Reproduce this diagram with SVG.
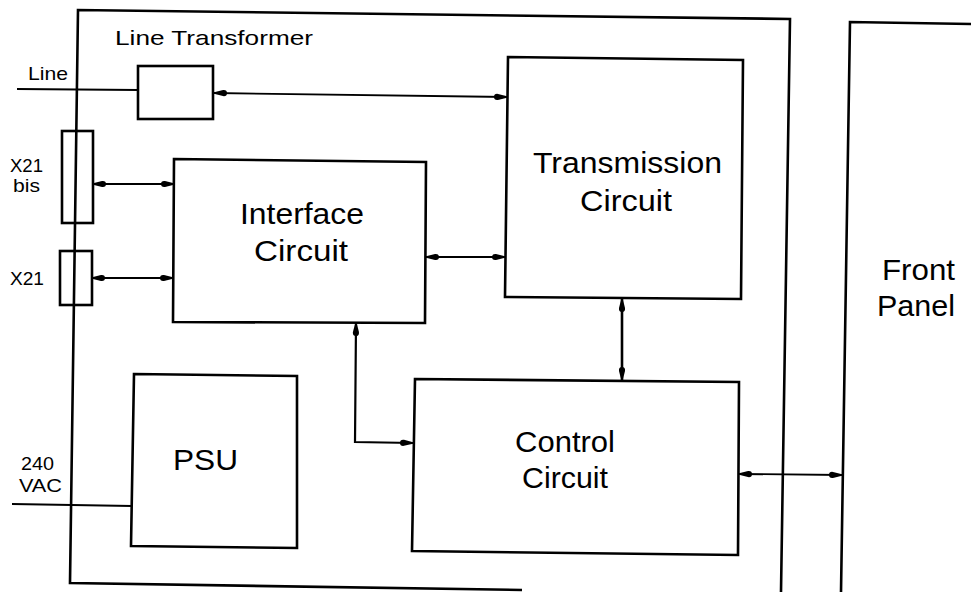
<svg xmlns="http://www.w3.org/2000/svg" width="971" height="592" viewBox="0 0 971 592">
<style>
.box{fill:none;stroke:#000;stroke-width:2.6;stroke-linejoin:miter}
.wire{fill:none;stroke:#000;stroke-width:1.8}
.lbl{font-family:"Liberation Sans",Arial,sans-serif;fill:#000}
.big{font-size:29px}
.sm{font-size:19px}
</style>
<defs>
<marker id="ah" viewBox="0 0 13 8" refX="13" refY="4" markerWidth="13" markerHeight="8" markerUnits="userSpaceOnUse" orient="auto-start-reverse">
<path d="M0,4 Q0,0.5 4,1 L13,3.3 L13,4.7 L4,7 Q0,7.5 0,4 Z" fill="#000"/>
</marker>
</defs>
<rect width="971" height="592" fill="#fff"/>

<g id="enclosure">
<path class="box" d="M522,590 L70,583 L78,10 L790,19 L781,592"/>
<text class="lbl" x="115" y="45" font-size="21" textLength="198" lengthAdjust="spacingAndGlyphs">Line Transformer</text>
</g>

<g id="front-panel">
<path class="box" d="M841,592 L850,22 L971,24"/>
<text class="lbl big" x="882" y="280" textLength="73" lengthAdjust="spacingAndGlyphs">Front</text>
<text class="lbl big" x="877" y="316" textLength="78" lengthAdjust="spacingAndGlyphs">Panel</text>
</g>

<g id="line-transformer">
<rect class="box" x="138" y="66" width="75" height="53"/>
</g>

<g id="transmission-circuit">
<path class="box" d="M508,57 L743,60 L741,299 L505,297 Z"/>
<text class="lbl big" x="533" y="173" textLength="189" lengthAdjust="spacingAndGlyphs">Transmission</text>
<text class="lbl big" x="580" y="211" textLength="92" lengthAdjust="spacingAndGlyphs">Circuit</text>
</g>

<g id="interface-circuit">
<path class="box" d="M174,159 L426,162 L425,323 L173,322 Z"/>
<text class="lbl big" x="240" y="224" textLength="124" lengthAdjust="spacingAndGlyphs">Interface</text>
<text class="lbl big" x="254" y="261" textLength="94" lengthAdjust="spacingAndGlyphs">Circuit</text>
</g>

<g id="control-circuit">
<path class="box" d="M415,379 L739,382 L738,555 L412,551 Z"/>
<text class="lbl big" x="515" y="452" textLength="100" lengthAdjust="spacingAndGlyphs">Control</text>
<text class="lbl big" x="522" y="488" textLength="86" lengthAdjust="spacingAndGlyphs">Circuit</text>
</g>

<g id="psu">
<path class="box" d="M134,374 L297,376 L297,548 L131,546 Z"/>
<text class="lbl big" x="173" y="470" textLength="65" lengthAdjust="spacingAndGlyphs">PSU</text>
</g>

<g id="x21bis">
<rect class="box" x="62" y="131" width="31" height="92"/>
<text class="lbl sm" x="10" y="172" textLength="33" lengthAdjust="spacingAndGlyphs">X21</text>
<text class="lbl sm" x="13" y="192" textLength="27" lengthAdjust="spacingAndGlyphs">bis</text>
</g>

<g id="x21">
<rect class="box" x="60" y="251" width="32" height="54"/>
<text class="lbl sm" x="10" y="285" textLength="34" lengthAdjust="spacingAndGlyphs">X21</text>
</g>

<g id="labels">
<text class="lbl sm" x="28" y="80" textLength="40" lengthAdjust="spacingAndGlyphs">Line</text>
<text class="lbl sm" x="21" y="470" textLength="33" lengthAdjust="spacingAndGlyphs">240</text>
<text class="lbl sm" x="19" y="492" textLength="43" lengthAdjust="spacingAndGlyphs">VAC</text>
</g>

<g id="connectors">
<path class="wire" d="M17,89 L138,90"/>
<path class="wire" d="M12,504 L132,506"/>
<path class="wire" d="M214,93 L507,97" marker-start="url(#ah)" marker-end="url(#ah)"/>
<path class="wire" d="M93,184 L174,184" marker-start="url(#ah)" marker-end="url(#ah)"/>
<path class="wire" d="M92,278 L173,278" marker-start="url(#ah)" marker-end="url(#ah)"/>
<path class="wire" d="M426,257 L505,257" marker-start="url(#ah)" marker-end="url(#ah)"/>
<path class="wire" style="stroke-width:2.6" d="M622,299 L622,380" marker-start="url(#ah)" marker-end="url(#ah)"/>
<path class="wire" style="stroke-width:2.2" d="M356,323 L355,442 L413,443" marker-start="url(#ah)" marker-end="url(#ah)"/>
<path class="wire" d="M739,474 L842,475" marker-start="url(#ah)" marker-end="url(#ah)"/>
</g>
</svg>
